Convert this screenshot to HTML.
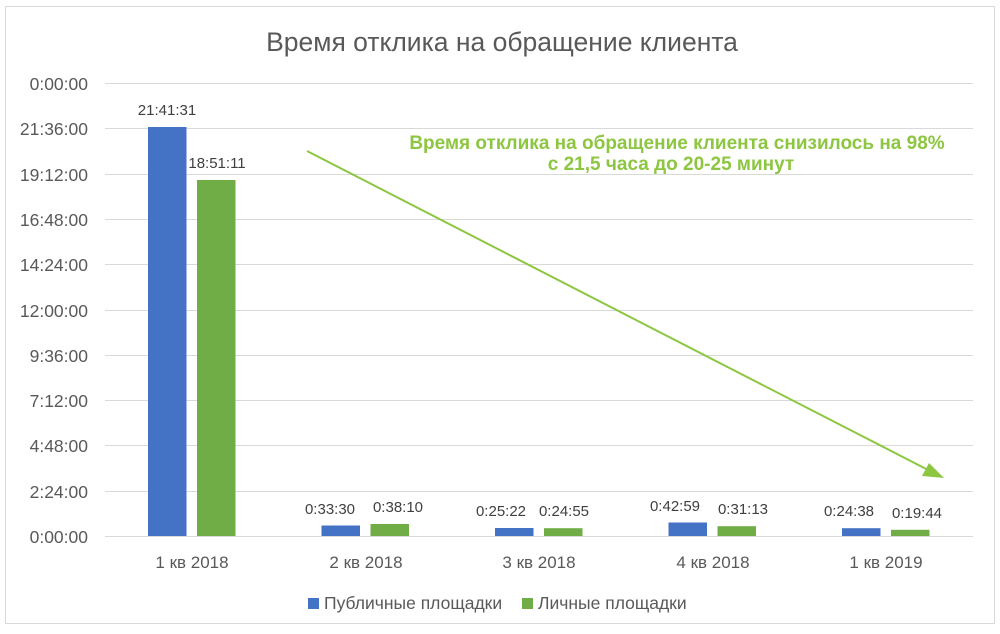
<!DOCTYPE html><html><head><meta charset="utf-8"><style>body{margin:0;background:#fff}text{font-family:"Liberation Sans","DejaVu Sans",sans-serif}</style></head><body>
<svg width="1000" height="629" viewBox="0 0 1000 629" xmlns="http://www.w3.org/2000/svg">
<rect x="0" y="0" width="1000" height="629" fill="#fff"/>
<rect x="5.5" y="6.5" width="989" height="617" fill="#fff" stroke="#d9d9d9"/>
<text x="502" y="51" text-anchor="middle" font-size="26.5" fill="#595959">Время отклика на обращение клиента</text>
<g stroke="#d9d9d9" stroke-width="1">
<line x1="105" x2="973" y1="83.5" y2="83.5"/><line x1="105" x2="973" y1="128.5" y2="128.5"/><line x1="105" x2="973" y1="174.5" y2="174.5"/><line x1="105" x2="973" y1="219.5" y2="219.5"/><line x1="105" x2="973" y1="264.5" y2="264.5"/><line x1="105" x2="973" y1="310.5" y2="310.5"/><line x1="105" x2="973" y1="355.5" y2="355.5"/><line x1="105" x2="973" y1="400.5" y2="400.5"/><line x1="105" x2="973" y1="445.5" y2="445.5"/><line x1="105" x2="973" y1="491.5" y2="491.5"/><line x1="105" x2="973" y1="536.5" y2="536.5"/>
</g>
<g font-size="17.5" fill="#595959" text-anchor="end">
<text x="88" y="90">0:00:00</text><text x="88" y="135">21:36:00</text><text x="88" y="181">19:12:00</text><text x="88" y="226">16:48:00</text><text x="88" y="271">14:24:00</text><text x="88" y="317">12:00:00</text><text x="88" y="362">9:36:00</text><text x="88" y="407">7:12:00</text><text x="88" y="452">4:48:00</text><text x="88" y="498">2:24:00</text><text x="88" y="543">0:00:00</text>
</g>
<g fill="#4472c4">
<rect x="148" y="127" width="38.5" height="409"/><rect x="321.5" y="525.5" width="38.5" height="10.5"/><rect x="495" y="528" width="38.5" height="8"/><rect x="668.5" y="522.5" width="38.5" height="13.5"/><rect x="842" y="528.2" width="38.5" height="7.8"/>
</g>
<g fill="#70ad47">
<rect x="197" y="180" width="38.5" height="356"/><rect x="370.5" y="524" width="38.5" height="12"/><rect x="544" y="528.2" width="38.5" height="7.8"/><rect x="717.5" y="526.2" width="38.5" height="9.8"/><rect x="891" y="529.8" width="38.5" height="6.2"/>
</g>
<g font-size="15" fill="#404040" text-anchor="middle">
<text x="167" y="115">21:41:31</text><text x="217" y="168">18:51:11</text>
<text x="330" y="514">0:33:30</text><text x="398" y="512">0:38:10</text>
<text x="501" y="516">0:25:22</text><text x="564" y="516">0:24:55</text>
<text x="675" y="511">0:42:59</text><text x="743" y="514">0:31:13</text>
<text x="849" y="516">0:24:38</text><text x="917" y="518">0:19:44</text>
</g>
<g font-size="17" fill="#595959" text-anchor="middle">
<text x="192" y="568">1 кв 2018</text><text x="366" y="568">2 кв 2018</text><text x="539" y="568">3 кв 2018</text><text x="713" y="568">4 кв 2018</text><text x="886" y="568">1 кв 2019</text>
</g>
<rect x="308" y="598" width="11" height="11" fill="#4472c4"/>
<text x="324" y="609" font-size="17.5" fill="#595959">Публичные площадки</text>
<rect x="522" y="598" width="11" height="11" fill="#70ad47"/>
<text x="538" y="609" font-size="17.5" fill="#595959">Личные площадки</text>
<line x1="307" y1="151" x2="932" y2="472" stroke="#8dc641" stroke-width="2"/>
<polygon points="944,478 929,463 922,476" fill="#8dc641"/>
<g font-size="19" font-weight="bold" fill="#8dc641" text-anchor="middle">
<text x="677" y="149">Время отклика на обращение клиента снизилось на 98%</text>
<text x="671" y="170">с 21,5 часа до 20-25 минут</text>
</g>
</svg></body></html>
